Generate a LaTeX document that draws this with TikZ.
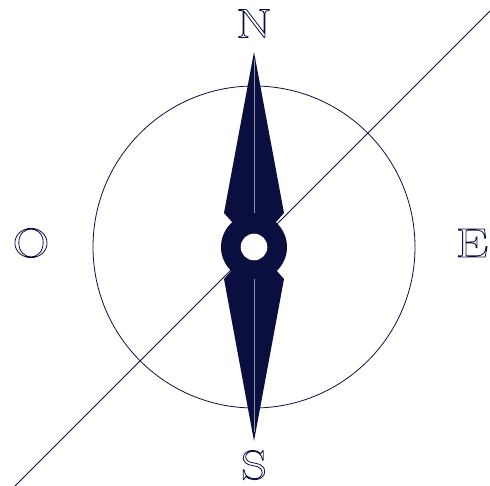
\documentclass[tikz,border=0pt]{standalone}
\usepackage{fontspec}
\usepackage{tikz}
\usetikzlibrary{positioning}
\newfontfamily\cardinalfont[FakeStretch=1.25]{Latin Modern Roman}
\definecolor{needleblue}{HTML}{0A0F40}
\newcommand{\outlined}[1]{\special{pdf:code q 1 Tr 0.8 w}#1\special{pdf:code Q}}
\tikzset{
  cardinal/.style={text=needleblue, font=\cardinalfont\fontsize{41}{41}\selectfont, inner sep=0pt},
  thinline/.style={draw=needleblue, line width=0.8pt},
  centreline/.style={draw=needleblue!45, line width=0.7pt}
}

\begin{document}
\begin{tikzpicture}[x=1pt, y=-1pt]
  \useasboundingbox (0,0) rectangle (490,486);

  % Circle and diagonal
  \coordinate (centre) at (254,247);
  \coordinate (lineSW) at (14,487);
  \coordinate (lineNE) at (490,11);
  \draw[thinline] (centre) circle (161);
  \draw[thinline] (lineSW) -- (lineNE);

  % Needle
  \fill[needleblue] (254,52) -- (284,213) -- (276,222) -- (276,270) -- (284,279)
    -- (254,441) -- (224,279) -- (232,270) -- (232,222) -- (224,213) -- cycle;
  \fill[needleblue] (centre) circle (33);
  \fill[white] (centre) circle (13.3);

  % Light centre lines
  \draw[centreline] (254,60) -- (254,213);
  \draw[centreline] (254,279) -- (254,432);

  % Cardinal points
  \node[cardinal] (north) at (254,23.5) {\outlined{N}};
  \node[cardinal] (south) at (254,465) {\outlined{S}};
  \node[cardinal] (west) at (31,243) {\outlined{O}};
  \node[cardinal] (east) at (472,243) {\outlined{E}};
\end{tikzpicture}
\end{document}
